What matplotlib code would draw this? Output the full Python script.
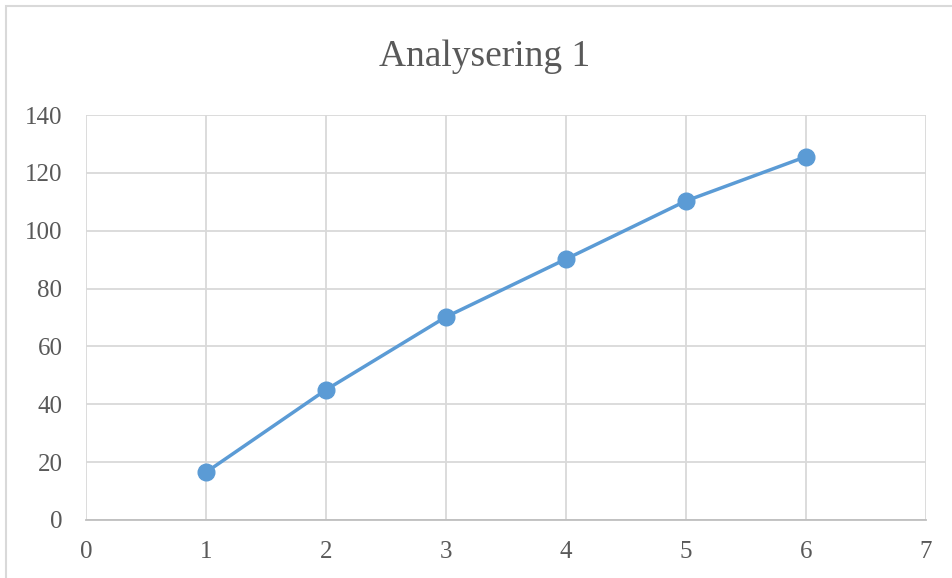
import matplotlib
matplotlib.use("Agg")
import matplotlib.pyplot as plt
from matplotlib.patches import Rectangle

# data
x_vals = [1, 2, 3, 4, 5, 6]
y_vals = [16.5, 45, 70.2, 90.2, 110.3, 125.6]
x_ticks = [0, 1, 2, 3, 4, 5, 6, 7]
y_ticks = [0, 20, 40, 60, 80, 100, 120, 140]
title = "Analysering 1"

plt.rcParams['font.family'] = ['Liberation Serif', 'DejaVu Serif']

fig = plt.figure(figsize=(9.53, 5.78), dpi=100)
ax = fig.add_axes([86/953, 1 - 520/578, (926 - 86)/953, (520 - 115)/578])

# chart area border (Excel style)
fig.patches.append(Rectangle((6/953, -0.1), 1.2, 1.1 - 6/578, transform=fig.transFigure,
                             fill=False, edgecolor='#d9d9d9', linewidth=1.5))

ax.plot(x_vals, y_vals, color='#5b9bd5', linewidth=2.5, marker='o', markersize=12,
        markeredgecolor='#5b9bd5', zorder=3, clip_on=False)

ax.set_xlim(0, 7)
ax.set_ylim(0, 140)
ax.set_xticks(x_ticks)
ax.set_yticks(y_ticks)
ax.grid(True, color='#d9d9d9', linewidth=1.3)
ax.set_axisbelow(True)
for side in ['top', 'right', 'left']:
    ax.spines[side].set_visible(False)
ax.spines['bottom'].set_color('#bfbfbf')
ax.spines['bottom'].set_linewidth(1.3)
ax.tick_params(length=0, labelsize=18, labelcolor='#595959')
ax.tick_params(axis='y', pad=17)
ax.tick_params(axis='x', pad=15)

fig.text(485/953, 1 - 57/578, title, ha='center', va='center', fontsize=27, color='#595959')

fig.savefig("out.png", dpi=100)
